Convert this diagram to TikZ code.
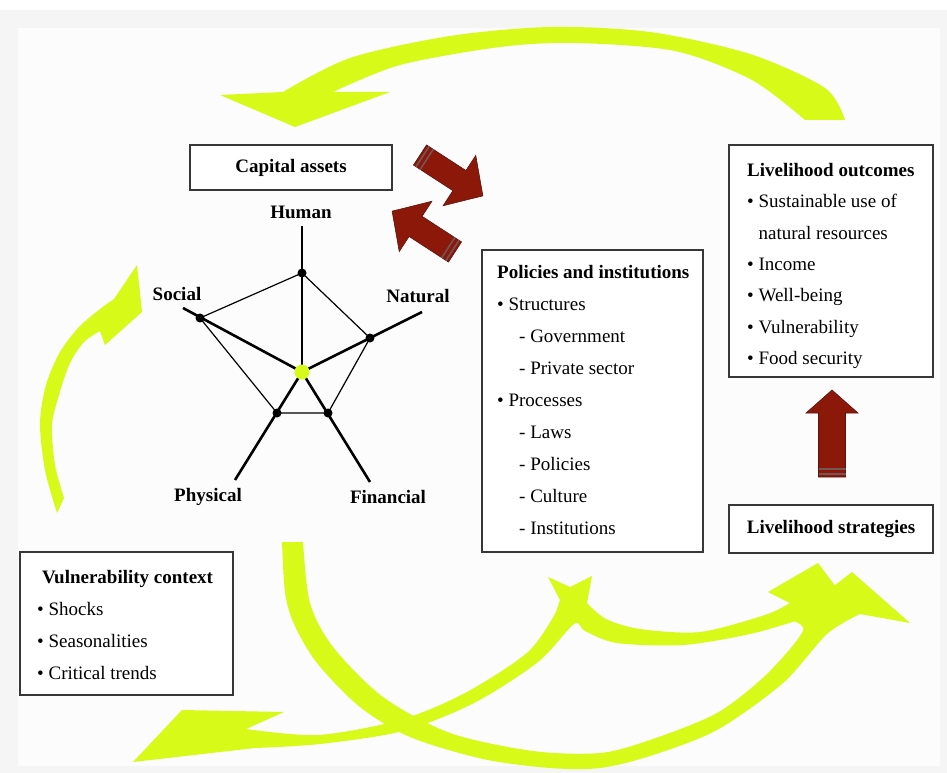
\documentclass[tikz,border=0pt]{standalone}
\usepackage{fontspec}
\setmainfont{Liberation Serif}
\usetikzlibrary{positioning,calc}
\definecolor{leaf}{RGB}{216,250,24}
\definecolor{brick}{RGB}{140,24,10}
\definecolor{brickline}{RGB}{90,22,16}
\definecolor{stripe}{RGB}{115,85,85}
\definecolor{frame}{RGB}{55,55,55}
\newcommand{\fs}{\fontsize{19}{32}\selectfont}
\newcommand{\blockarrow}[7]{%
\begin{scope}[shift={(#1,#2)}, rotate=#3]
\fill[brick, draw=brickline, line width=0.6pt] (0,-#5) -- (#4-#7,-#5) -- (#4-#7,-#6) -- (#4,0) -- (#4-#7,#6) -- (#4-#7,#5) -- (0,#5) -- cycle;
\draw[stripe, line width=1.6pt] (3,-#5) -- (3,#5) (8,-#5) -- (8,#5);
\end{scope}}
\tikzset{panel/.style={draw=frame, line width=2.2pt, fill=white, inner sep=0pt},
 list/.style={font=\fs, align=left, anchor=north west, inner sep=0pt},
 axislabel/.style={font=\fs\bfseries, inner sep=1pt},
 spoke/.style={line width=2.6pt},
 web/.style={line width=1.2pt},
 dot/.style={circle, fill=black, inner sep=0pt, minimum size=9pt}}

\begin{document}
\begin{tikzpicture}[x=1pt, y=-1pt]
\useasboundingbox (0,0) rectangle (947,773);
\fill[white] (0,0) rectangle (947,773);
\fill[black!4] (0,10) rectangle (947,773);
\fill[black!1] (18,28) rectangle (940,766);

\fill[leaf] (845,120) -- plot[smooth] coordinates {(845,120) (825,88) (750,54) (650,32) (550,27) (450,36) (350,58) (283,92)}
 -- (220,95) -- (295,127) -- (390,92) -- (333,92)
 -- plot[smooth] coordinates {(333,92) (400,65) (500,47) (575,43) (675,51) (752,80) (805,120)} -- cycle;
\fill[leaf] (57,513) -- plot[smooth] coordinates {(57,513) (45,470) (40,423) (46,385) (60,352) (80,326) (104,306)}
 -- (114,299) -- (137,265) -- (142,312) -- (105,345) -- (100,331)
 -- plot[smooth] coordinates {(100,331) (84,342) (70,363) (59,395) (52,425) (55,465) (64,498)} -- cycle;
\fill[leaf] (282,542) -- plot[smooth] coordinates {(282,542) (285,592) (294,624) (317,663) (360,707) (410,737) (483,759) (550,768) (600,768) (650,756) (717,730) (783,683) (827,634) (860,614)}
 -- (910,623) -- (852,572) -- (790,620)
 -- plot[smooth] coordinates {(790,620) (803,631) (767,674) (717,713) (650,740) (600,753) (533,751) (450,733) (383,697) (333,647) (310,603) (303,542)} -- cycle;
\fill[leaf] (548,577) -- (570,587) -- (592,576) -- (587,603)
 -- plot[smooth] coordinates {(587,603) (606,619) (640,629) (700,632) (765,615) (790,603)}
 -- (768,592) -- (818,563) -- (848,603)
 -- plot[smooth] coordinates {(848,603) (805,618) (750,634) (683,645) (617,643) (585,631) (574,624) (538,662) (474,703) (403,731) (320,744) (255,748)}
 -- (133,762) -- (182,710) -- (284,712) -- (246,729)
 -- plot[smooth] coordinates {(246,729) (318,735) (400,720) (465,693) (528,652) (556,612)} -- (560,600) -- cycle;

\node[panel, minimum width=202pt, minimum height=45pt, font=\fs\bfseries] (capital) at (291,167.5) {Capital assets};
\node[panel, minimum width=221pt, minimum height=302pt] (policy) at (592.5,401) {};
\node[list] (policytext) at (497,265) {\textbf{Policies and institutions}\\
 \textbullet\ Structures\\ \hspace*{22pt}- Government\\ \hspace*{22pt}- Private sector\\
 \textbullet\ Processes\\ \hspace*{22pt}- Laws\\ \hspace*{22pt}- Policies\\ \hspace*{22pt}- Culture\\ \hspace*{22pt}- Institutions};
\node[panel, minimum width=204pt, minimum height=232pt] (outcome) at (831,261) {};
\node[list, font=\fontsize{19}{31.4}\selectfont] (outcometext) at (747,163) {\textbf{Livelihood outcomes}\\
 \textbullet\ Sustainable use of\\ \hspace*{11.4pt}natural resources\\ \textbullet\ Income\\ \textbullet\ Well-being\\
 \textbullet\ Vulnerability\\ \textbullet\ Food security};
\node[panel, minimum width=204pt, minimum height=48pt, font=\fs\bfseries] (strategy) at (831,529) {Livelihood strategies};
\node[panel, minimum width=213pt, minimum height=143pt] (vulner) at (126.5,623.5) {};
\node[list] (vulnertext) at (37,570) {\hspace*{5pt}\textbf{Vulnerability context}\\
 \textbullet\ Shocks\\ \textbullet\ Seasonalities\\ \textbullet\ Critical trends};

\blockarrow{420}{155}{-33}{75}{12}{30}{28}
\blockarrow{455}{252}{147}{75}{12}{30}{28}
\blockarrow{832}{477}{90}{87}{13.5}{26}{23}

\coordinate (ctr) at (302,372);
\coordinate (hum) at (302,273);
\coordinate (nat) at (370,338);
\coordinate (fin) at (328,413);
\coordinate (phy) at (277,413);
\coordinate (soc) at (200,318);
\coordinate (humE) at (302,226);
\coordinate (natE) at (422,312);
\coordinate (finE) at (370,482);
\coordinate (phyE) at (235,480);
\coordinate (socE) at (183,308);
\draw[web] (hum) -- (nat) -- (fin) -- (phy) -- (soc) -- cycle;
\draw[line width=1.8pt] (ctr) -- (humE);
\draw[spoke] (ctr) -- (natE) (ctr) -- (finE) (ctr) -- (phyE) (ctr) -- (socE);
\node[dot] (dhum) at (hum) {};
\node[dot] (dnat) at (nat) {};
\node[dot] (dfin) at (fin) {};
\node[dot] (dphy) at (phy) {};
\node[dot] (dsoc) at (soc) {};
\node[circle, fill=leaf, inner sep=0pt, minimum size=15pt] (dctr) at (ctr) {};

\node[axislabel] (lhum) at (301,212) {Human};
\node[axislabel] (lsoc) at (177,294) {Social};
\node[axislabel] (lnat) at (418,296) {Natural};
\node[axislabel] (lphy) at (208,497) {Physical};
\node[axislabel] (lfin) at (388,497) {Financial};
\end{tikzpicture}
\end{document}
